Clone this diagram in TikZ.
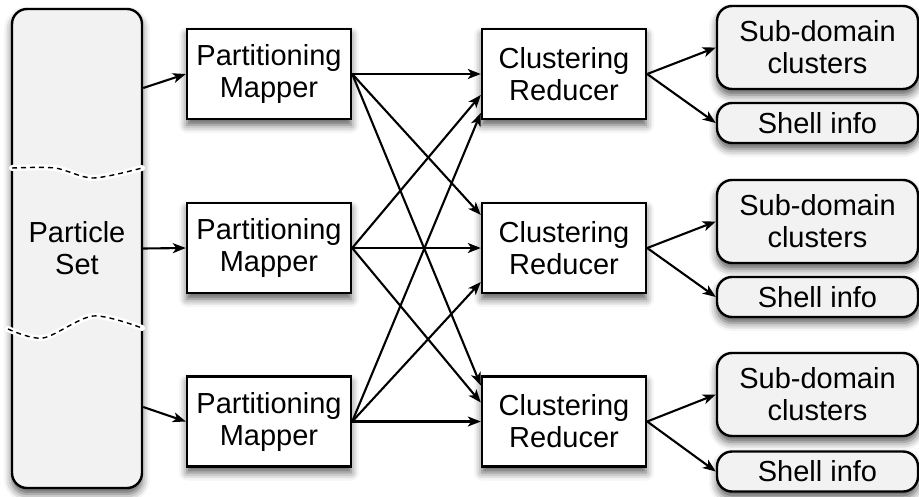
\documentclass[tikz,border=0pt]{standalone}
\usepackage{fontspec}
\setmainfont{Liberation Sans}
\usetikzlibrary{arrows.meta, shadows.blur}
\tikzstyle{procbox} = [rectangle, draw, line width=2.4pt, text centered, align=center,
                       fill=white, minimum width=164pt, minimum height=90pt,
                       inner sep=0pt, font=\fontsize{29}{32}\selectfont,
                       blur shadow={shadow xshift=0pt, shadow yshift=-6pt,
                       shadow blur radius=8pt, shadow opacity=65}]
\tikzstyle{setbox} = [procbox, rounded corners=15pt, fill=black!5]
\tikzstyle{outbox} = [procbox, rounded corners=15pt, fill=black!5,
                      minimum width=201pt]
\tikzstyle{arrow} = [line width=2.1pt, ->]
\newcommand{\drawTear}[1]
{
    \draw [white, line width=6pt, line cap=round] plot [smooth] coordinates {#1};
    \draw [line width=1.4pt, dash pattern=on 5pt off 4pt] plot [smooth] coordinates {#1};
}

\begin{document}
\begin{tikzpicture}[x=1pt, y=-1pt, >={Stealth[length=13pt, width=10pt, inset=3.5pt]}]
\useasboundingbox (0,0) rectangle (919,496);

\node (set) [setbox, minimum width=130pt, minimum height=479pt] at (77,248.5) {Particle\\Set};
\drawTear{(12,168) (55,168) (93,178) (142,168)}
\drawTear{(8,329) (43,338) (93,316) (142,328)}

\node (m1) [procbox] at (269,74) {Partitioning\\Mapper};
\node (m2) [procbox] at (269,248) {Partitioning\\Mapper};
\node (m3) [procbox] at (269,421.5) {Partitioning\\Mapper};

\node (r1) [procbox] at (564,74) {Clustering\\Reducer};
\node (r2) [procbox] at (564,248) {Clustering\\Reducer};
\node (r3) [procbox] at (564,421.5) {Clustering\\Reducer};

\node (s1) [outbox, minimum height=83pt] at (817.5,47.5) {Sub-domain\\clusters};
\node (h1) [outbox, minimum height=40pt] at (817.5,123) {Shell info};
\node (s2) [outbox, minimum height=83pt] at (817.5,221.5) {Sub-domain\\clusters};
\node (h2) [outbox, minimum height=40pt] at (817.5,297) {Shell info};
\node (s3) [outbox, minimum height=83pt] at (817.5,394.5) {Sub-domain\\clusters};
\node (h3) [outbox, minimum height=40pt] at (817.5,471.5) {Shell info};

% particle set to mappers
\draw [arrow] ([yshift=160.5pt]set.east) -- (m1.west);
\draw [arrow] (set.east) -- (m2.west);
\draw [arrow] ([yshift=-158.5pt]set.east) -- (m3.west);

% mappers to reducers
\draw [arrow] (m1.east) -- (r1.west);
\draw [arrow] (m1.east) -- ([yshift=33pt]r2.west);
\draw [arrow] (m1.east) -- ([yshift=36pt]r3.west);
\draw [arrow] (m2.east) -- ([yshift=-21pt]r1.west);
\draw [arrow] (m2.east) -- (r2.west);
\draw [arrow] (m2.east) -- ([yshift=19pt]r3.west);
\draw [arrow] (m3.east) -- ([yshift=-39pt]r1.west);
\draw [arrow] (m3.east) -- ([yshift=-34pt]r2.west);
\draw [arrow] (m3.east) -- (r3.west);

% reducers to outputs
\draw [arrow] (r1.east) -- (s1.west);
\draw [arrow] (r1.east) -- (h1.west);
\draw [arrow] (r2.east) -- (s2.west);
\draw [arrow] (r2.east) -- (h2.west);
\draw [arrow] (r3.east) -- (s3.west);
\draw [arrow] (r3.east) -- (h3.west);

\end{tikzpicture}
\end{document}
